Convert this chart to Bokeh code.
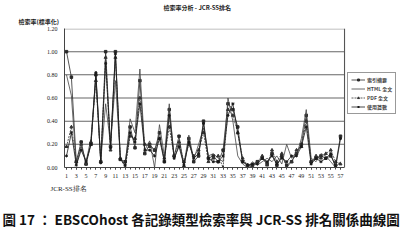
from bokeh.plotting import figure
from bokeh.models import Legend, LegendItem, FixedTicker, Range1d, Title, CustomJSTickFormatter
from bokeh.embed import file_html
from bokeh.resources import INLINE

rank = list(range(1, 58))
abstract = [1.00,0.78,0.05,0.22,0.03,0.20,0.80,0.05,1.00,0.18,1.00,0.07,0.05,0.35,0.17,0.75,0.12,0.20,0.15,0.30,0.05,0.50,0.10,0.27,0.00,0.25,0.05,0.10,0.40,0.08,0.10,0.05,0.15,0.55,0.50,0.35,0.05,0.02,0.02,0.05,0.08,0.03,0.12,0.02,0.10,0.02,0.05,0.12,0.20,0.45,0.05,0.08,0.10,0.08,0.10,0.02,0.27]
html_full = [0.80,0.62,0.02,0.18,0.05,0.25,0.78,0.06,0.55,0.20,0.75,0.08,0.02,0.42,0.30,0.85,0.15,0.23,0.00,0.37,0.10,0.55,0.07,0.20,0.03,0.28,0.07,0.20,0.34,0.10,0.12,0.08,0.05,0.60,0.40,0.10,0.03,0.00,0.05,0.02,0.05,0.08,0.05,0.10,0.03,0.20,0.08,0.10,0.25,0.50,0.08,0.05,0.12,0.10,0.05,0.00,0.05]
pdf_full = [0.18,0.35,0.05,0.20,0.03,0.22,0.75,0.05,0.95,0.15,0.95,0.08,0.00,0.27,0.25,0.60,0.20,0.18,0.15,0.25,0.08,0.35,0.10,0.22,0.05,0.20,0.10,0.15,0.30,0.05,0.08,0.10,0.00,0.50,0.45,0.30,0.08,0.02,0.00,0.05,0.10,0.02,0.15,0.05,0.12,0.00,0.05,0.15,0.18,0.40,0.05,0.10,0.08,0.12,0.15,0.05,0.03]
usage = [0.10,0.30,0.02,0.15,0.05,0.20,0.82,0.04,0.90,0.17,0.98,0.07,0.02,0.30,0.22,0.55,0.15,0.15,0.10,0.25,0.05,0.45,0.08,0.18,0.02,0.22,0.08,0.12,0.38,0.08,0.05,0.05,0.10,0.45,0.55,0.30,0.05,0.02,0.03,0.03,0.08,0.05,0.10,0.03,0.08,0.05,0.10,0.10,0.18,0.35,0.03,0.08,0.05,0.08,0.12,0.00,0.25]
series_names = ["索引摘要", "HTML 全文", "PDF 全文", "使用篇數"]
y_ticks = [0.0, 0.2, 0.4, 0.6, 0.8, 1.0, 1.2]
x_ticks = list(range(1, 58, 2))

CJK = "Noto Sans CJK TC"
SERIF = "Liberation Serif"

X_LO, X_HI = 0.59, 57.82          # plotting area in data units
p = figure(width=400, height=240, output_backend="svg", toolbar_location=None,
           x_range=Range1d(X_LO, 69.26), y_range=Range1d(0, 1.2),
           min_border_left=64, min_border_right=0, min_border_top=22, min_border_bottom=68)
p.background_fill_color = "white"
p.border_fill_color = "white"
p.outline_line_color = None

p.xaxis.ticker = FixedTicker(ticks=x_ticks, minor_ticks=rank)
p.xaxis.bounds = (X_LO, X_HI)
p.yaxis.ticker = FixedTicker(ticks=y_ticks)
p.yaxis.formatter = CustomJSTickFormatter(code="return tick.toFixed(2);")
for ax in (p.xaxis[0], p.yaxis[0]):
    ax.major_label_text_font = SERIF
    ax.major_label_text_font_size = "6px"
    ax.major_label_text_color = "#222222"
    ax.axis_line_color = "#444444"
    ax.major_tick_line_color = "#444444"
    ax.minor_tick_line_color = "#444444"
    ax.major_tick_in = 0
    ax.major_tick_out = 2
    ax.minor_tick_in = 0
    ax.minor_tick_out = 2
p.yaxis.minor_tick_line_color = None
p.yaxis.major_tick_out = 0
p.yaxis.major_label_standoff = 7
p.xaxis.major_label_standoff = 4
p.grid.grid_line_color = None

# horizontal grid lines and right border of the plotting area, as 1px bars
px_y = 1.2 / 150.0
px_x = (69.26 - X_LO) / 336.0
grid_y = y_ticks[1:-1]
p.hbar(y=grid_y, left=X_LO, right=X_HI, height=px_y * 1.1,
       fill_color="#666666", line_color=None)
p.hbar(y=[y_ticks[-1] - px_y * 0.5], left=X_LO, right=X_HI, height=px_y,
       fill_color="#aaaaaa", line_color=None)
p.vbar(x=[X_HI], bottom=y_ticks[0], top=y_ticks[-1], width=px_x * 1.1,
       fill_color="#555555", line_color=None)

styles = [
    dict(color="#2a2a2a", dash="solid", marker="square", msize=2.5),
    dict(color="#444444", dash="solid", marker=None, msize=0),
    dict(color="#333333", dash="2 1", marker="triangle", msize=3),
    dict(color="#1a1a1a", dash="solid", marker="asterisk", msize=3),
]
items = []
for name, vals, st in zip(series_names, [abstract, html_full, pdf_full, usage], styles):
    rs = [p.line(rank, vals, color=st["color"], line_width=0.8, line_dash=st["dash"])]
    if st["marker"]:
        rs.append(p.scatter(rank, vals, marker=st["marker"], size=st["msize"], color=st["color"]))
    items.append(LegendItem(label=name, renderers=rs))

legend = Legend(items=items, location=(283, 53), label_text_font=CJK,
                label_text_font_size="5px", label_text_font_style="bold",
                label_height=5, glyph_height=5,
                glyph_width=14, spacing=2, padding=3, margin=0,
                label_standoff=2, border_line_color="#333333", border_line_width=1,
                background_fill_alpha=1)
p.add_layout(legend)

p.add_layout(Title(text="檢索率(標準化)", align="left", offset=-46, text_font=CJK,
                   text_font_size="6px", text_font_style="bold", text_color="#222222",
                   standoff=6), "above")
p.add_layout(Title(text="檢索率分析 - JCR-SS排名", align="left", offset=99, text_font=CJK,
                   text_font_size="6px", text_font_style="bold", text_color="#222222",
                   standoff=0), "above")
p.add_layout(Title(text="JCR-SS排名", align="left", offset=-14, text_font=SERIF,
                   text_font_size="7px", text_font_style="normal", text_color="#222222",
                   standoff=4), "below")
p.add_layout(Title(text="圖 17 ： EBSCOhost 各記錄類型檢索率與 JCR-SS 排名關係曲線圖",
                   align="left", offset=-62, text_font=CJK, text_font_size="13.5px",
                   text_font_style="bold", text_color="#111111", standoff=24), "below")

open("out.html", "w").write(file_html(p, INLINE))
